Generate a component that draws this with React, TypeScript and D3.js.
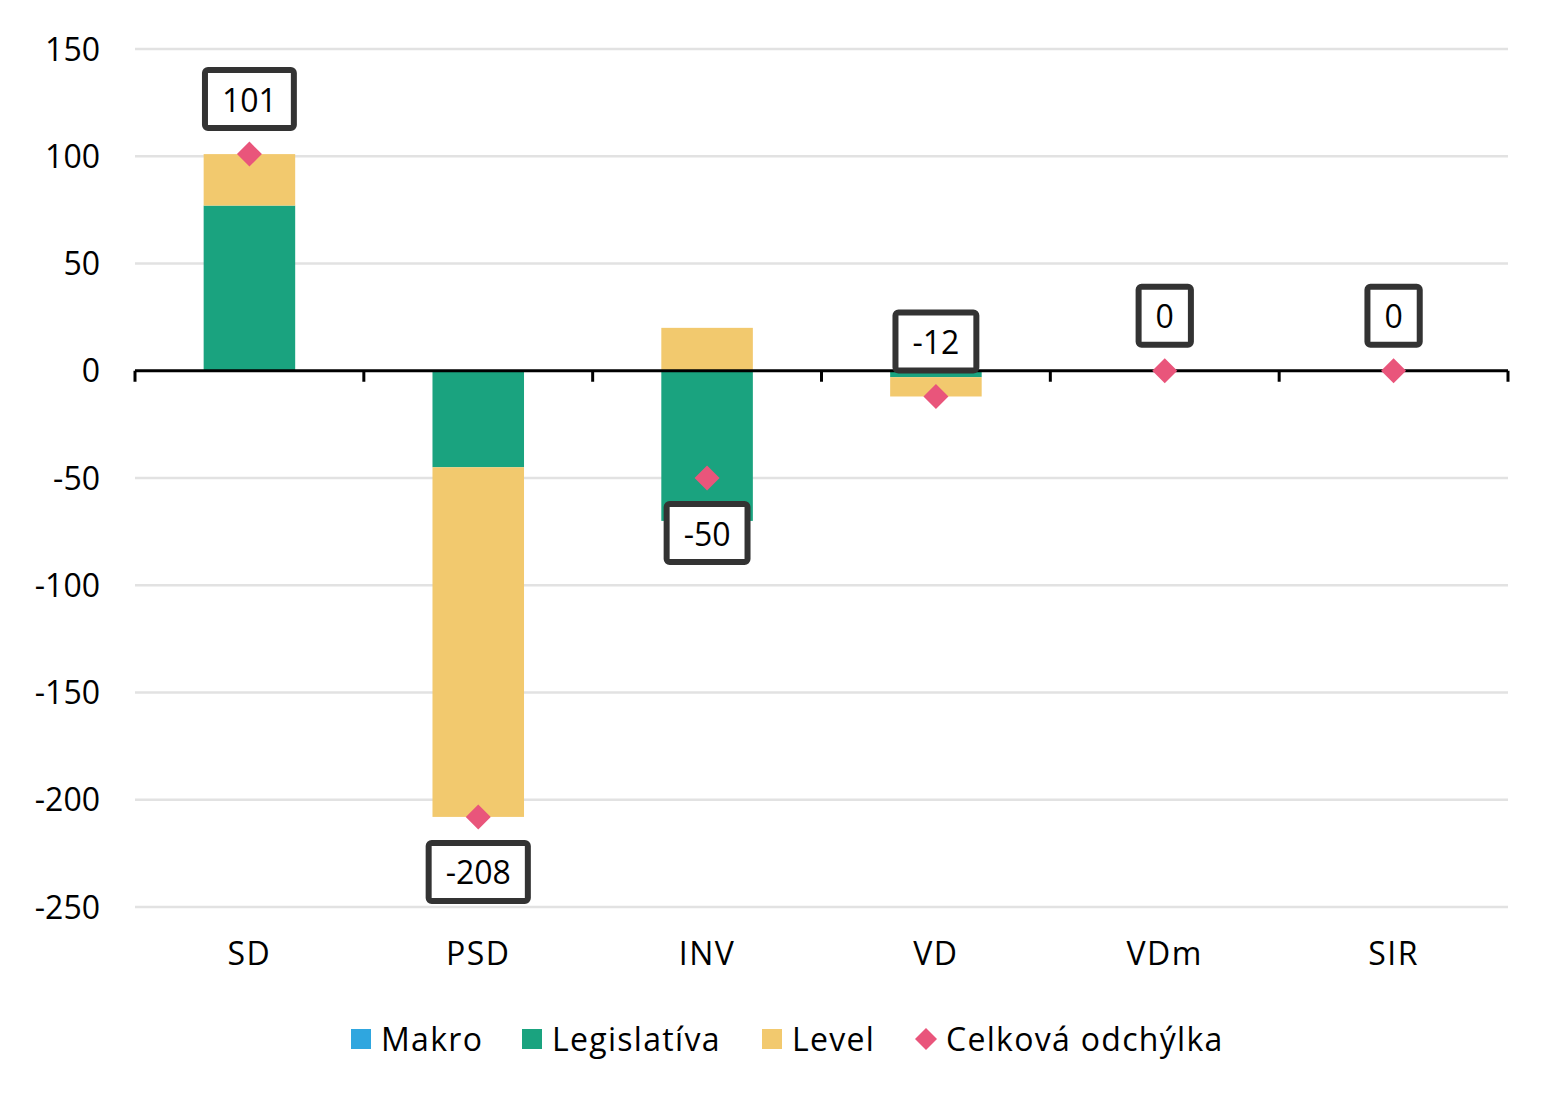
import * as d3 from "d3";

const categories = ["SD", "PSD", "INV", "VD", "VDm", "SIR"];
const makro = [0, 0, 0, 0, 0, 0];
const legislativa = [77, -45, -70, -3, 0, 0];
const level = [24, -163, 20, -9, 0, 0];
const total = [101, -208, -50, -12, 0, 0];
const labelSide = ["above", "below", "below", "above", "above", "above"];
const yTicks = [150, 100, 50, 0, -50, -100, -150, -200, -250];

const seriesNames = ["Makro", "Legislatíva", "Level"];
const seriesColors = ["#2fa6df", "#1aa37f", "#f2c96e"];
const markerColor = "#e9557b";
const FONT = "'Open Sans', 'Liberation Sans', sans-serif";
const FS = 32;

const width = 1559;
const height = 1104;
const margin = { top: 49, right: 51, bottom: 197, left: 135 };

const measure = (() => {
  const ctx = document.createElement("canvas").getContext("2d");
  return (s: string, size: number) => {
    if (!ctx) return s.length * size * 0.56;
    ctx.font = `${size}px ${FONT}`;
    return ctx.measureText(s).width;
  };
})();

export default function App() {
  const x = d3
    .scaleBand()
    .domain(categories)
    .range([margin.left, width - margin.right])
    .paddingInner(0.6)
    .paddingOuter(0.3);
  const xBounds = d3
    .scaleBand()
    .domain(categories)
    .range([margin.left, width - margin.right]);
  const y = d3
    .scaleLinear()
    .domain([-250, 150])
    .range([height - margin.bottom, margin.top]);

  const rows = categories.map((c, i) => ({
    cat: c,
    vals: [makro[i], legislativa[i], level[i]],
  }));

  // stacking with diverging offsets, like Excel's stacked columns
  const rects: { cat: string; y0: number; y1: number; k: number }[] = [];
  rows.forEach((r) => {
    let pos = 0;
    let neg = 0;
    r.vals.forEach((v, k) => {
      if (v === 0) return;
      if (v > 0) {
        rects.push({ cat: r.cat, y0: pos, y1: pos + v, k });
        pos += v;
      } else {
        rects.push({ cat: r.cat, y0: neg, y1: neg + v, k });
        neg += v;
      }
    });
  });

  const legendItems = [
    ...seriesNames.map((n, k) => ({ name: n, color: seriesColors[k], diamond: false })),
    { name: "Celková odchýlka", color: markerColor, diamond: true },
  ];
  const legendStarts = [351, 522, 762, 916];

  return (
    <svg width={width} height={height} style={{ display: "block", marginTop: -8, marginLeft: -8 }}>
      <rect width={width} height={height} fill="#fff" />
      {yTicks.map((t) => (
        <g key={t}>
          {t !== 0 && (
            <line
              x1={margin.left}
              x2={width - margin.right}
              y1={y(t)}
              y2={y(t)}
              stroke="#e2e2e2"
              strokeWidth={2.5}
            />
          )}
          <text
            x={100}
            y={y(t) - 1}
            textAnchor="end"
            dominantBaseline="central"
            fontSize={FS}
            fontFamily={FONT}
            fill="#000"
          >
            {t}
          </text>
        </g>
      ))}

      {rects.map((r, i) => (
        <rect
          key={i}
          x={x(r.cat)}
          width={x.bandwidth()}
          y={y(Math.max(r.y0, r.y1))}
          height={Math.abs(y(r.y0) - y(r.y1))}
          fill={seriesColors[r.k]}
        />
      ))}

      <line
        x1={margin.left}
        x2={width - margin.right}
        y1={y(0)}
        y2={y(0)}
        stroke="#000"
        strokeWidth={3}
      />
      {[...categories.map((c) => xBounds(c) ?? 0), width - margin.right].map((bx, i) => (
        <line key={i} x1={bx} x2={bx} y1={y(0)} y2={y(0) + 11} stroke="#000" strokeWidth={3} />
      ))}

      {categories.map((c, i) => {
        const cx = (x(c) ?? 0) + x.bandwidth() / 2;
        const cy = y(total[i]);
        return (
          <path
            key={c}
            d={`M${cx},${cy - 12.5}L${cx + 12.5},${cy}L${cx},${cy + 12.5}L${cx - 12.5},${cy}Z`}
            fill={markerColor}
          />
        );
      })}

      {categories.map((c, i) => {
        const cx = (x(c) ?? 0) + x.bandwidth() / 2;
        const cy = y(total[i]) + (labelSide[i] === "above" ? -55 : 55);
        const label = String(total[i]);
        const w = measure(label, FS) + 34;
        const h = 58;
        return (
          <g key={c}>
            <rect
              x={cx - w / 2}
              y={cy - h / 2}
              width={w}
              height={h}
              rx={3}
              fill="#fff"
              stroke="#333"
              strokeWidth={6}
            />
            <text
              x={cx}
              y={cy}
              textAnchor="middle"
              dominantBaseline="central"
              fontSize={FS}
              fontFamily={FONT}
              fill="#000"
            >
              {label}
            </text>
          </g>
        );
      })}

      {categories.map((c) => (
        <text
          key={c}
          x={(x(c) ?? 0) + x.bandwidth() / 2}
          y={952}
          textAnchor="middle"
          dominantBaseline="central"
          fontSize={FS}
          letterSpacing={1.5}
          fontFamily={FONT}
          fill="#000"
        >
          {c}
        </text>
      ))}

      {legendItems.map((it, i) => {
        const lx = legendStarts[i];
        const ly = 1039;
        return (
          <g key={it.name}>
            {it.diamond ? (
              <path
                d={`M${lx + 10},${ly - 11}L${lx + 21},${ly}L${lx + 10},${ly + 11}L${lx - 1},${ly}Z`}
                fill={it.color}
              />
            ) : (
              <rect x={lx} y={ly - 10} width={20} height={20} fill={it.color} />
            )}
            <text
              x={lx + 30}
              y={ly - 1}
              dominantBaseline="central"
              fontSize={FS}
              letterSpacing={1.3}
              fontFamily={FONT}
              fill="#000"
            >
              {it.name}
            </text>
          </g>
        );
      })}
    </svg>
  );
}
